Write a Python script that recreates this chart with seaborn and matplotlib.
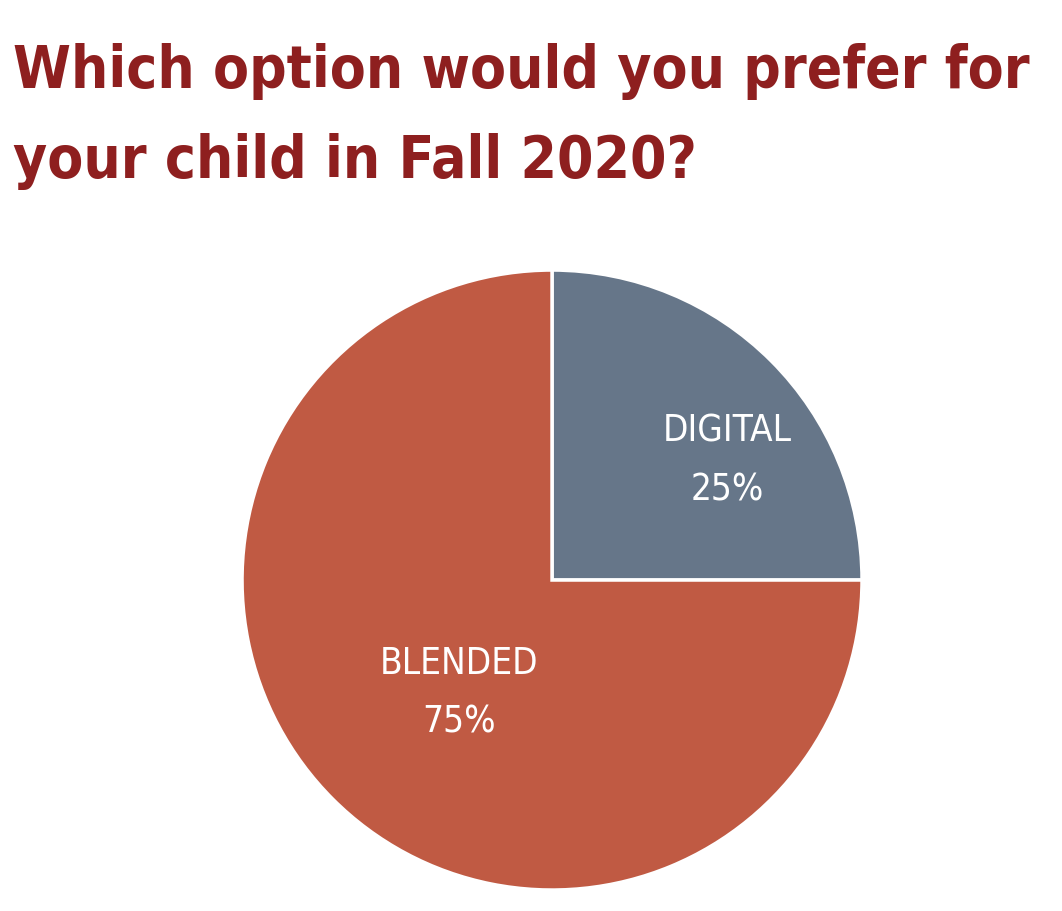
import seaborn as sns
import matplotlib.pyplot as plt

# chart data
options = ["DIGITAL", "BLENDED"]
shares = [25, 75]
colors = ["#667689", "#C05A43"]
title_lines = ["Which option would you prefer for", "your child in Fall 2020?"]

sns.set_theme(style="white")
plt.rcParams['font.family'] = ['DejaVu Sans']

fig = plt.figure(figsize=(10.62, 9.12), dpi=100)

for i, line in enumerate(title_lines):
    fig.text(0.012, 1 - (88 + 90 * i) / 912, line,
             color="#8E1F1F", fontsize=42, fontweight="bold", fontstretch="condensed",
             ha="left", va="baseline")

ax = fig.add_axes([0.2279, 0.023, 0.5838, 0.6798])
ax.pie(shares, colors=colors, startangle=90, counterclock=False,
       wedgeprops=dict(edgecolor="white", linewidth=2.5))
ax.set_xlim(-1.0, 1.0)
ax.set_ylim(-1.0, 1.0)
ax.set_aspect("equal")

# label spots (x, y in pie radius units)
spots = [(0.565, 0.39), (-0.30, -0.36)]
for name, val, (x, y) in zip(options, shares, spots):
    ax.text(x, y + 0.095, name, color="white", fontsize=26.5, fontstretch="condensed",
            fontweight="light", ha="center", va="center")
    ax.text(x, y - 0.095, f"{val}%", color="white", fontsize=26.5, fontstretch="condensed",
            fontweight="light", ha="center", va="center")

fig.savefig("out.png", dpi=100)
